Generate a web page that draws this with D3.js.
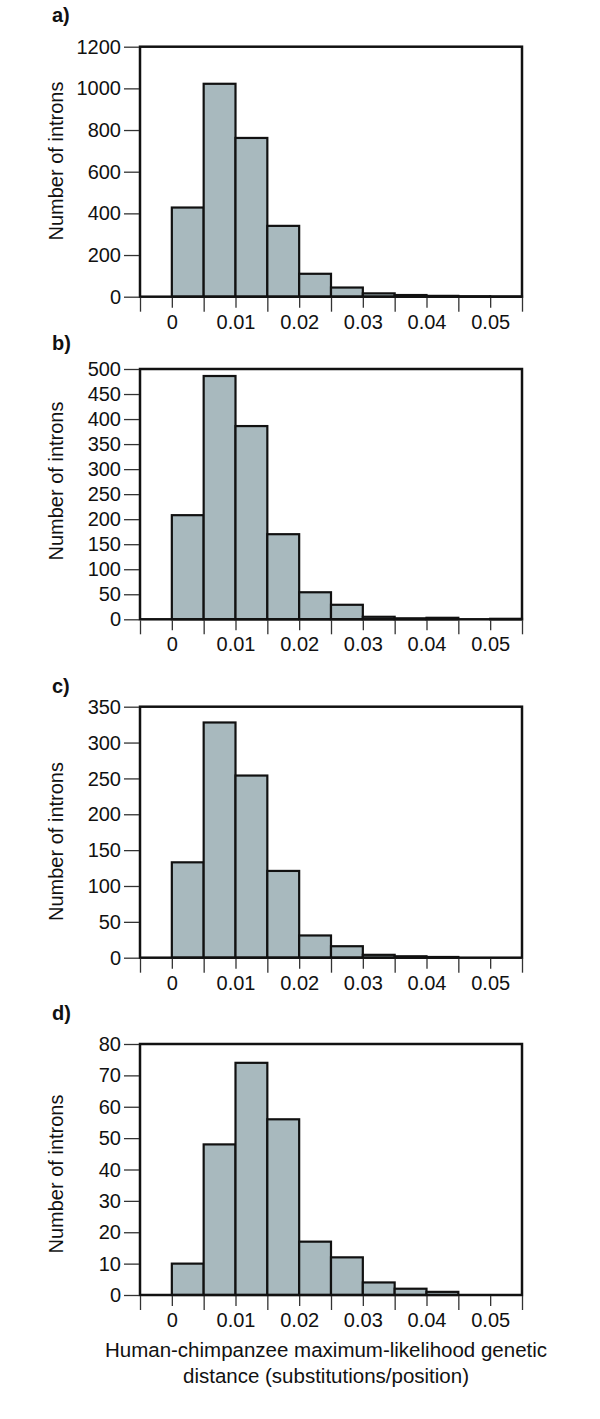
<!DOCTYPE html>
<html>
<head>
<meta charset="utf-8">
<script src="https://cdn.jsdelivr.net/npm/d3@7"></script>
<style>
  html, body { margin: 0; padding: 0; background: #fff; }
  svg { display: block; font-family: "Liberation Sans", Arial, Helvetica, sans-serif; }
</style>
</head>
<body>
<svg id="chart" width="600" height="1419"></svg>
<script>
// ---- data ----
const binEdges = [-0.005, 0, 0.005, 0.01, 0.015, 0.02, 0.025, 0.03, 0.035, 0.04, 0.045, 0.05, 0.055];
const xTickValues = [0, 0.01, 0.02, 0.03, 0.04, 0.05];
const xTickLabels = ["0", "0.01", "0.02", "0.03", "0.04", "0.05"];

const panelLabels = ["a)", "b)", "c)", "d)"];

const countsA = [0, 428, 1022, 762, 340, 110, 44, 16, 8, 4, 2, 1];
const countsB = [0, 208, 486, 386, 170, 54, 29, 5, 2, 3, 0, 1];
const countsC = [0, 133, 328, 254, 121, 31, 16, 4, 2, 1, 0, 0];
const countsD = [0, 10, 48, 74, 56, 17, 12, 4, 2, 1, 0, 0];

const yTicksA = [0, 200, 400, 600, 800, 1000, 1200];
const yTicksB = [0, 50, 100, 150, 200, 250, 300, 350, 400, 450, 500];
const yTicksC = [0, 50, 100, 150, 200, 250, 300, 350];
const yTicksD = [0, 10, 20, 30, 40, 50, 60, 70, 80];

const yAxisTitle = "Number of introns";
const xAxisTitle = ["Human-chimpanzee maximum-likelihood genetic", "distance (substitutions/position)"];

// ---- layout ----
const panels = [
  { label: panelLabels[0], counts: countsA, ticks: yTicksA, top: 46.7,  bottom: 296.7,  labelY: 22,     ytitleY: 161 },
  { label: panelLabels[1], counts: countsB, ticks: yTicksB, top: 369,   bottom: 619.3,  labelY: 350,    ytitleY: 481 },
  { label: panelLabels[2], counts: countsC, ticks: yTicksC, top: 706.7, bottom: 957.7,  labelY: 693,    ytitleY: 841.5 },
  { label: panelLabels[3], counts: countsD, ticks: yTicksD, top: 1044,  bottom: 1295,   labelY: 1020,   ytitleY: 1174 }
];

const svg = d3.select("#chart");
svg.append("rect").attr("width", 600).attr("height", 1419).attr("fill", "#fff");

const x = d3.scaleLinear().domain([binEdges[0], binEdges[binEdges.length - 1]]).range([140, 522]);
const FILL = "#a8b9be";
const FONT = 20;

const isMajor = v => xTickValues.some(t => Math.abs(t - v) < 1e-9);
const minorEdges = binEdges.filter(v => !isMajor(v));

panels.forEach(p => {
  const yMax = p.ticks[p.ticks.length - 1];
  const y = d3.scaleLinear().domain([0, yMax]).range([p.bottom, p.top]);
  const g = svg.append("g");

  // bars
  const bins = p.counts.map((c, i) => ({ x0: binEdges[i], x1: binEdges[i + 1], c }));
  g.append("g").selectAll("rect").data(bins.filter(b => b.c > 0)).join("rect")
    .attr("x", d => x(d.x0))
    .attr("width", d => x(d.x1) - x(d.x0))
    .attr("y", d => y(d.c))
    .attr("height", d => y(0) - y(d.c))
    .attr("fill", FILL)
    .attr("stroke", "#111")
    .attr("stroke-width", 2.2);

  // frame
  g.append("rect")
    .attr("x", x(binEdges[0])).attr("y", p.top)
    .attr("width", x(binEdges[binEdges.length - 1]) - x(binEdges[0]))
    .attr("height", p.bottom - p.top)
    .attr("fill", "none").attr("stroke", "#111").attr("stroke-width", 2.5);

  // y axis
  const ya = g.append("g").attr("transform", `translate(${x(binEdges[0]) - 1},0)`)
    .call(d3.axisLeft(y).tickValues(p.ticks).tickSize(15).tickPadding(3).tickFormat(d3.format("d")));
  ya.select(".domain").remove();
  ya.selectAll(".tick line").attr("stroke", "#333").attr("stroke-width", 1.3);
  ya.selectAll(".tick text").attr("font-size", FONT).attr("fill", "#111")
    .attr("font-family", "Liberation Sans, Arial, sans-serif").attr("dy", "0.33em");

  // x axis minor ticks
  const xm = g.append("g").attr("transform", `translate(0,${p.bottom + 1})`)
    .call(d3.axisBottom(x).tickValues(minorEdges).tickSize(14).tickFormat(""));
  xm.select(".domain").remove();
  xm.selectAll(".tick line").attr("stroke", "#333").attr("stroke-width", 1.3);

  // x axis labeled ticks
  const xa = g.append("g").attr("transform", `translate(0,${p.bottom + 1})`)
    .call(d3.axisBottom(x).tickValues(xTickValues).tickSize(10)
      .tickFormat((d, i) => xTickLabels[i]));
  xa.select(".domain").remove();
  xa.selectAll(".tick line").attr("stroke", "#333").attr("stroke-width", 1.3);
  xa.selectAll(".tick text").attr("font-size", FONT).attr("fill", "#111")
    .attr("font-family", "Liberation Sans, Arial, sans-serif")
    .attr("y", 31).attr("dy", 0);

  // y title
  g.append("text")
    .attr("transform", `translate(63,${p.ytitleY}) rotate(-90)`)
    .attr("text-anchor", "middle")
    .attr("font-size", FONT).attr("fill", "#111")
    .text(yAxisTitle);

  // panel label
  g.append("text")
    .attr("x", 52).attr("y", p.labelY)
    .attr("font-size", 20).attr("font-weight", "bold").attr("fill", "#111")
    .text(p.label);
});

// x title
const xt = svg.append("text").attr("text-anchor", "middle").attr("font-size", 20.5).attr("fill", "#111");
xAxisTitle.forEach((line, i) => {
  xt.append("tspan").attr("x", 326).attr("y", 1357 + i * 26).text(line);
});
</script>
</body>
</html>
